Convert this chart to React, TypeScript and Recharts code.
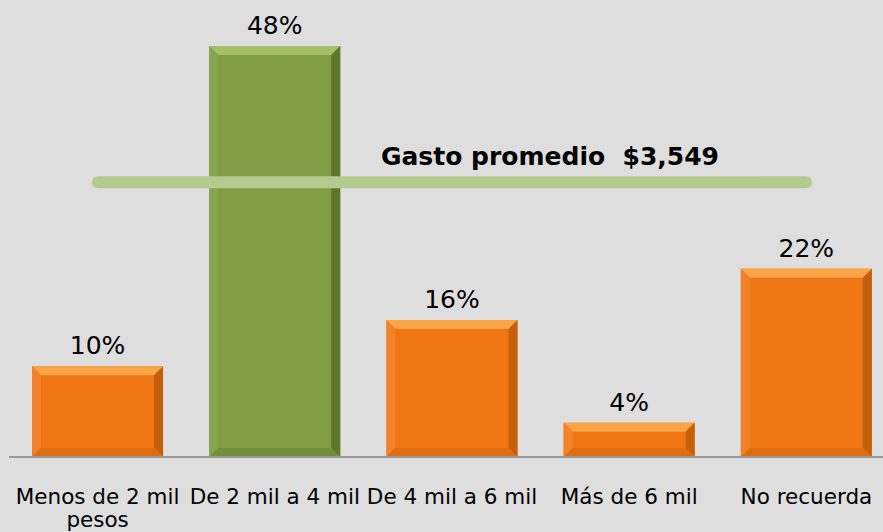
import React from 'react';
import { BarChart, Bar, XAxis, YAxis, LabelList, ReferenceLine } from 'recharts';

const categories = ['Menos de 2 mil pesos', 'De 2 mil a 4 mil', 'De 4 mil a 6 mil', 'Más de 6 mil', 'No recuerda'];
const shares = [10.6, 48, 16, 4, 22];
const shareLabels = ['10%', '48%', '16%', '4%', '22%'];
const highlight = [false, true, false, false, false];
const averageLevel = 32.1;
const averageText = 'Gasto promedio  $3,549';

const data = categories.map((name, i) => ({
  name,
  value: shares[i],
  label: shareLabels[i],
  green: highlight[i],
}));

const FONT = '"DejaVu Sans", Verdana, sans-serif';

const palette = {
  orange: { base: '#f07614', top: '#f9a548', left: '#f2822a', right: '#c4600c', bottom: '#e06c10' },
  green: { base: '#7f9d43', top: '#a3c066', left: '#86a44c', right: '#5d772e', bottom: '#738f3c' },
};

const BevelBar = (props: any) => {
  const { x, y, width, height, payload } = props;
  if (!height || height <= 0) return null;
  const c = payload.green ? palette.green : palette.orange;
  const b = Math.min(9, height / 2);
  const r = x + width;
  const btm = y + height;
  return (
    <g>
      <rect x={x} y={y} width={width} height={height} fill={c.base} />
      <polygon points={`${x},${y} ${r},${y} ${r - b},${y + b} ${x + b},${y + b}`} fill={c.top} />
      <polygon points={`${x},${y} ${x + b},${y + b} ${x + b},${btm - b} ${x},${btm}`} fill={c.left} />
      <polygon points={`${r},${y} ${r},${btm} ${r - b},${btm - b} ${r - b},${y + b}`} fill={c.right} />
      <polygon points={`${x},${btm} ${r},${btm} ${r - b},${btm - b} ${x + b},${btm - b}`} fill={c.bottom} />
    </g>
  );
};

const AverageLine = (props: any) => {
  const { x1, x2, y1 } = props;
  const a = x1 + 89;
  const e = x2 - 89;
  return (
    <g>
      <line x1={a} y1={y1} x2={e} y2={y1} stroke="#b4cb8f" strokeWidth={12} strokeLinecap="round" />
      <text x={550} y={y1 - 17} textAnchor="middle" fontFamily={FONT} fontWeight="bold" fontSize={25} fill="#000" style={{ whiteSpace: 'pre' }}>
        {averageText}
      </text>
    </g>
  );
};

const CategoryTick = (props: any) => {
  const { x, y, payload } = props;
  const words: string[] = payload.value === 'Menos de 2 mil pesos' ? ['Menos de 2 mil', 'pesos'] : [payload.value];
  return (
    <g>
      {words.map((w, i) => (
        <text key={i} x={x} y={y + 39 + i * 23} textAnchor="middle" fontFamily={FONT} fontSize={21.5} fill="#000">
          {w}
        </text>
      ))}
    </g>
  );
};

export default function App() {
  return (
    <div style={{ position: 'fixed', left: 0, top: 0, width: 883, height: 532, overflow: 'hidden', background: '#dedede' }}>
      <BarChart width={900} height={532} data={data} margin={{ top: 29, right: 5, bottom: 0, left: 9 }} barCategoryGap="13%">
        <XAxis
          dataKey="name"
          axisLine={{ stroke: '#9a9a9a', strokeWidth: 2 }}
          tickLine={false}
          interval={0}
          height={75}
          tick={<CategoryTick />}
        />
        <YAxis hide domain={[0, 50]} />
        <ReferenceLine y={averageLevel} shape={<AverageLine />} />
        <Bar dataKey="value" shape={<BevelBar />} isAnimationActive={false}>
          <LabelList dataKey="label" position="top" offset={12} fontFamily={FONT} fontSize={25} fill="#000" />
        </Bar>
      </BarChart>
    </div>
  );
}
